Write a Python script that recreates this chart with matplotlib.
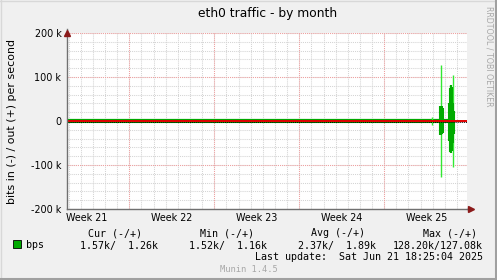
import matplotlib
matplotlib.use("Agg")
import matplotlib.pyplot as plt
from matplotlib.lines import Line2D
import matplotlib.transforms as mtransforms

# ---------------- data ----------------
week_labels = ["Week 21", "Week 22", "Week 23", "Week 24", "Week 25"]
week_starts = [0, 7, 14, 21, 28]          # days since Monday of week 21
x_start, x_end = 1.87, 34.82               # visible time window (days)
day_lines = list(range(2, 35))

y_ticks = [-200000, -100000, 0, 100000, 200000]
y_tick_labels = ["-200 k", "-100 k", "0", "100 k", "200 k"]

# baseline traffic (bits/s)
base_t = [1.87, 33.77]
base_out = [1300, 1300]
base_in = [1600, 1600]

# average columns during burst (k bits/s)
avg_t = [31.96, 32.59, 32.68, 32.76, 32.84, 33.34, 33.42, 33.50, 33.59, 33.67, 33.75]
avg_out = [3, 33, 34, 33, 29, 40, 75, 82, 78, 40, 22]
avg_in = [2, 32, 31, 30, 27, 45, 70, 72, 68, 50, 30]

# maximum spikes (k bits/s)
max_t = [31.96, 32.70, 33.46, 33.63]
max_out = [10, 127.08, 82, 104]
max_in = [9, 128.2, 70, 104]

title = "eth0 traffic - by month"
ylabel = "bits in (-) / out (+) per second"
legend_name = "bps"
cols = [("Cur (-/+)", "1.57k/  1.26k"), ("Min (-/+)", "1.52k/  1.16k"),
        ("Avg (-/+)", "2.37k/  1.89k"), ("Max (-/+)", "128.20k/127.08k")]
last_update = "Last update:  Sat Jun 21 18:25:04 2025"
footer = "Munin 1.4.5"
side_text = "RRDTOOL / TOBI OETIKER"

# ---------------- figure ----------------
W, H = 497, 280
fig = plt.figure(figsize=(W / 100, H / 100), dpi=100)
fig.patch.set_facecolor("#F0F0F0")

def fx(px):
    return px / W

def fy(py):
    return 1 - py / H

# border
fig.add_artist(Line2D([0, 1], [fy(0.5), fy(0.5)], color="#D8D8D8", lw=1, transform=fig.transFigure))
fig.add_artist(Line2D([fx(0.5), fx(0.5)], [0, 1], color="#D8D8D8", lw=1, transform=fig.transFigure))
fig.add_artist(Line2D([0, 1], [fy(278.5), fy(278.5)], color="#A0A0A0", lw=2.2, transform=fig.transFigure))
fig.add_artist(Line2D([fx(495.5), fx(495.5)], [0, 1], color="#A0A0A0", lw=2.2, transform=fig.transFigure))

ax = fig.add_axes([fx(67), fy(209), fx(400), 176 / H])
ax.set_facecolor("white")
ax.set_xlim(x_start, x_end)
ax.set_ylim(-200000, 200000)

for s in ["top", "right"]:
    ax.spines[s].set_visible(False)
for s in ["left", "bottom"]:
    ax.spines[s].set_color("#707070")
    ax.spines[s].set_linewidth(1.0)
    ax.spines[s].set_zorder(6)

dot = (0, (1, 1))
# minor grid
for d in day_lines:
    ax.axvline(d, color="#D4D4D4", lw=0.75, ls=dot, zorder=1)
for v in range(-200000, 200001, 20000):
    ax.axhline(v, color="#D4D4D4", lw=0.75, ls=dot, zorder=1)
# major grid
for w in week_starts:
    if x_start < w < x_end:
        ax.axvline(w, color="#F0A0A0", lw=0.75, ls=dot, zorder=2)
for v in y_ticks:
    ax.axhline(v, color="#F0A0A0", lw=0.75, ls=dot, zorder=2)

ax.set_yticks(y_ticks)
ax.set_yticklabels(y_tick_labels)
ax.set_xticks([])
ax.tick_params(axis="y", length=0, pad=4, labelsize=6.9, colors="black")
for lab in ax.get_yticklabels():
    lab.set_fontfamily("DejaVu Sans")

# week labels at week centres
trans = mtransforms.blended_transform_factory(ax.transData, ax.transAxes)
for lbl, ws in zip(week_labels, week_starts):
    c = ws + 3.5
    ax.text(c, -0.022, lbl, transform=trans, ha="center", va="top", fontsize=6.9)

# data
ax.plot(base_t, [-v for v in base_in], color="#00A800", lw=0.8, zorder=3, solid_capstyle="butt")
ax.plot(base_t, base_out, color="#00A800", lw=1.6, zorder=3, solid_capstyle="butt")
ax.vlines(max_t, [-v * 1000 for v in max_in], [v * 1000 for v in max_out],
          color="#33E833", lw=1.0, zorder=3)
ax.vlines(avg_t, [-v * 1000 for v in avg_in], [v * 1000 for v in avg_out],
          color="#00AA00", lw=1.5, zorder=4)
ax.axhline(0, color="#E00000", lw=1.4, zorder=5)
ax.axhline(-2600, color="black", lw=0.7, ls=dot, zorder=5)

# arrows
ax.plot([x_start], [200000], marker="^", color="#8B1A1A", markersize=4.5, clip_on=False, zorder=7)
ax.plot([x_start, x_start], [200000, 210000], color="#707070", lw=1, clip_on=False, zorder=6)
ax.plot([x_end, x_end + 0.3], [-200000, -200000], color="#707070", lw=1, clip_on=False, zorder=6)
ax.plot([x_end + 0.3], [-200000], marker=">", color="#8B1A1A", markersize=4.5, clip_on=False, zorder=7)

# texts
fig.text(fx(268), fy(13), title, ha="center", va="center", fontsize=8.8)
fig.text(fx(12), fy(121), ylabel, ha="center", va="center", rotation=90, fontsize=7.9)
fig.text(fx(489), fy(56), side_text, ha="center", va="center", rotation=270,
         fontsize=5.7, color="#A8A8A8")

mono = dict(family="DejaVu Sans Mono", fontsize=7.2)
fig.add_artist(plt.Rectangle((fx(13), fy(248)), fx(8), 8 / H, transform=fig.transFigure,
                             facecolor="#00AA00", edgecolor="black", lw=0.6))
fig.text(fx(26), fy(245), legend_name, ha="left", va="center", **mono)
head_right = [142, 254, 365, 477]
val_right = [158, 267, 376, 483]
for (h, v), hr, vr in zip(cols, head_right, val_right):
    fig.text(fx(hr), fy(233.5), h, ha="right", va="center", **mono)
    fig.text(fx(vr), fy(245.5), v, ha="right", va="center", **mono)
fig.text(fx(483), fy(257.5), last_update, ha="right", va="center", **mono)
fig.text(fx(249), fy(269), footer, ha="center", va="center", color="#A8A8A8",
         family="DejaVu Sans Mono", fontsize=6.3)

fig.savefig("out.png", dpi=100, facecolor=fig.get_facecolor())
